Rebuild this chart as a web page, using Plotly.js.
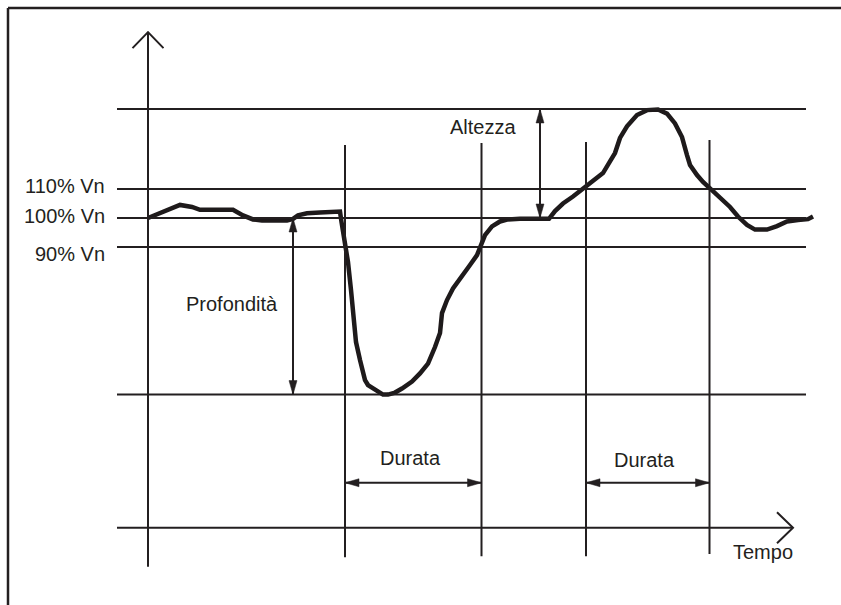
<!DOCTYPE html>
<html><head><meta charset="utf-8">
<script src="https://cdn.plot.ly/plotly-3.0.1.min.js"></script>
<style>html,body{margin:0;padding:0;background:#fff;} #chart{width:841px;height:605px;}</style>
</head><body><div id="chart"></div>
<script>
// ---- Waveform: time (arbitrary units) and voltage (% of Vn) ----
const time = [0,14,32,44,52,85,95,105,114,139,145,150,159,172,187,192,193.5,195,197,200,203,205,208,212,217,220,225,230,235,240,247,254,264,272,280,287,292,294,299,305,314,322,329,332,337,344,352,360,372,397,401,407,415,425,435,447,455,462,467,472,479,489,499,510,519,527,534,539,542,549,555,562,572,582,590,599,607,619,629,639,650,660,665];
const voltage = [100,102.1,104.5,103.8,102.8,102.8,100.9,99.5,99.1,99.1,99.7,100.9,101.6,101.9,102.2,102.2,98.6,95.2,91.0,84.8,75.2,66.6,57.2,51.0,44.1,42.4,41.2,40.0,39.1,39.1,39.8,41.2,43.6,46.4,49.8,55.5,60.3,67.2,71.7,75.7,80.3,83.8,87.2,90.2,94.1,97.1,98.8,99.5,99.7,99.7,99.7,102.4,105.0,107.4,110.2,113.1,115.5,119.5,122.4,127.6,131.6,135.5,137.2,137.4,136.0,132.6,127.9,121.7,118.3,114.8,112.4,110.2,107.2,103.8,100.5,97.6,96.0,96.0,97.2,98.8,99.3,99.6,100.5];

// ---- Reference levels (% Vn) ----
const levelLabels = ['110% Vn', '100% Vn', '90% Vn'];
const levelValues = [110, 100, 90];
const levelLabelPos = [111.2, 100.8, 87.6];
const swellPeakLevel = 137.6;
const sagDepthLevel = 39.1;
const timeAxisLevel = -6.8;
const refLineStart = -31, refLineEnd = 658, timeAxisEnd = 645;
const vAxisTop = 164.1, vAxisBottom = -20.3;

// ---- Event boundaries (time) ----
const eventTimes = [197, 333.5, 438, 561.5];
const eventTops = [125.2, 125.9, 126.2, 126.9];
const eventBottoms = [-17.0, -16.6, -16.6, -15.9];

// ---- Annotation texts ----
const durataLabels = ['Durata', 'Durata'];
const durataStart = [197, 438];
const durataEnd = [333.5, 561.5];
const durataArrowLevel = 8.7;
const durataTextTime = [262, 496];
const durataTextLevel = [17.4, 16.7];
const depthLabel = 'Profondità', depthArrowTime = 145, depthTextPos = [84, 70.3];
const heightLabel = 'Altezza', heightArrowTime = 392, heightTextPos = [335, 131.4];
const timeLabel = 'Tempo', timeLabelPos = [615, -15.1];

// ---- Scales ----
const W = 841, H = 605;
const xRange = [-148, 693], yRange = [-33.45, 175.17];
const kx = W / (xRange[1] - xRange[0]);
const ky = H / (yRange[1] - yRange[0]);
const ink = '#231f20';
const FONT = {family: '"Liberation Sans", Arial, Helvetica, sans-serif', size: 20, color: ink};

const shapes = [];
function seg(x0, y0, x1, y1, w) {
  shapes.push({type: 'line', xref: 'x', yref: 'y', x0, y0, x1, y1, line: {color: ink, width: w || 2}});
}
// frame (top + left)
shapes.push({type: 'line', xref: 'paper', yref: 'paper', x0: 8/W, x1: 1, y0: 1 - 8/H, y1: 1 - 8/H, line: {color: ink, width: 2.5}});
shapes.push({type: 'line', xref: 'paper', yref: 'paper', x0: 8/W, x1: 8/W, y0: 1 - 8/H, y1: 0, line: {color: ink, width: 2.5}});

levelValues.forEach(v => seg(refLineStart, v, refLineEnd, v));
seg(refLineStart, swellPeakLevel, refLineEnd, swellPeakLevel);
seg(refLineStart, sagDepthLevel, refLineEnd, sagDepthLevel);
seg(refLineStart, timeAxisLevel, timeAxisEnd, timeAxisLevel);
seg(0, vAxisBottom, 0, vAxisTop);
eventTimes.forEach((t, i) => seg(t, eventBottoms[i], t, eventTops[i]));
durataStart.forEach((t, i) => seg(t, durataArrowLevel, durataEnd[i], durataArrowLevel));
seg(depthArrowTime, 100, depthArrowTime, sagDepthLevel);
seg(heightArrowTime, 100, heightArrowTime, swellPeakLevel);

const traces = [];
// filled arrow head: tip (x,y), direction unit vector in pixel space
function head(x, y, dx, dy) {
  const L = 14, Wd = 4;
  const bx = x - dx * L / kx, by = y - dy * L / ky;
  const px = -dy, py = dx;
  traces.push({x: [x, bx + px * Wd / kx, bx - px * Wd / kx, x], y: [y, by + py * Wd / ky, by - py * Wd / ky, y],
    mode: 'lines', fill: 'toself', fillcolor: ink, line: {color: ink, width: 0.5}, hoverinfo: 'skip'});
}
// open chevron
function chevron(x, y, dx, dy) {
  const L = 16, Wd = 15.5;
  const bx = x - dx * L / kx, by = y - dy * L / ky;
  const px = -dy, py = dx;
  traces.push({x: [bx + px * Wd / kx, x, bx - px * Wd / kx], y: [by + py * Wd / ky, y, by - py * Wd / ky],
    mode: 'lines', line: {color: ink, width: 2}, hoverinfo: 'skip'});
}
durataStart.forEach((t, i) => { head(t, durataArrowLevel, -1, 0); head(durataEnd[i], durataArrowLevel, 1, 0); });
head(depthArrowTime, 100, 0, 1); head(depthArrowTime, sagDepthLevel, 0, -1);
head(heightArrowTime, swellPeakLevel, 0, 1); head(heightArrowTime, 100, 0, -1);
chevron(0, vAxisTop, 0, 1);
chevron(timeAxisEnd, timeAxisLevel, 1, 0);

traces.push({x: time, y: voltage, mode: 'lines', line: {color: '#1e1a1b', width: 4.5}, hoverinfo: 'skip'});

const annotations = [];
levelLabels.forEach((s, i) => annotations.push({x: -41, y: levelLabelPos[i], text: s, xanchor: 'right', yanchor: 'middle', showarrow: false, font: FONT}));
durataLabels.forEach((s, i) => annotations.push({x: durataTextTime[i], y: durataTextLevel[i], text: s, showarrow: false, font: FONT}));
annotations.push({x: depthTextPos[0], y: depthTextPos[1], text: depthLabel, showarrow: false, font: FONT});
annotations.push({x: heightTextPos[0], y: heightTextPos[1], text: heightLabel, showarrow: false, font: FONT});
annotations.push({x: timeLabelPos[0], y: timeLabelPos[1], text: timeLabel, showarrow: false, font: FONT});

Plotly.newPlot('chart', traces, {
  width: W, height: H, margin: {l: 0, r: 0, t: 0, b: 0},
  paper_bgcolor: '#fff', plot_bgcolor: '#fff', showlegend: false,
  xaxis: {range: xRange, visible: false, fixedrange: true},
  yaxis: {range: yRange, visible: false, fixedrange: true},
  shapes, annotations
}, {staticPlot: true});
</script></body></html>
